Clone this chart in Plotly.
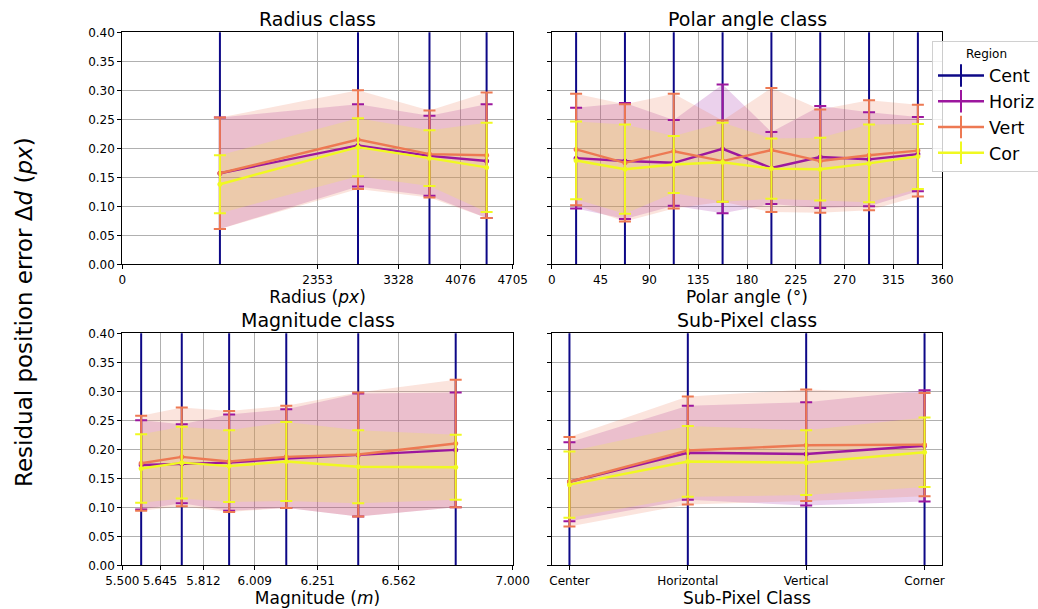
import plotly.graph_objects as go

# ---- data ---------------------------------------------------------------
regions = ["Cent", "Horiz", "Vert", "Cor"]
colors = {"Cent": "#0d0887", "Horiz": "#9c179e", "Vert": "#ed7953", "Cor": "#f0f921"}
fills = {"Horiz": "rgba(156,23,158,0.2)", "Vert": "rgba(237,121,83,0.2)", "Cor": "rgba(240,249,33,0.2)"}

# Radius class (bin edges -> bin centres)
radius_edges = [0, 2353, 3328, 4076, 4705]
radius_mean = {
    "Cent": [0.85, 0.80, 0.82, 0.78],
    "Horiz": [0.157, 0.205, 0.187, 0.178],
    "Vert": [0.157, 0.215, 0.190, 0.188],
    "Cor": [0.138, 0.202, 0.183, 0.167],
}
radius_std = {
    "Cent": [1.2, 1.1, 1.15, 1.1],
    "Horiz": [0.096, 0.071, 0.069, 0.098],
    "Vert": [0.096, 0.085, 0.075, 0.108],
    "Cor": [0.050, 0.050, 0.048, 0.077],
}

# Polar angle class
polar_edges = [0, 45, 90, 135, 180, 225, 270, 315, 360]
polar_mean = {
    "Cent": [0.80, 0.82, 0.78, 0.85, 0.80, 0.83, 0.79, 0.81],
    "Horiz": [0.183, 0.178, 0.175, 0.199, 0.166, 0.185, 0.181, 0.190],
    "Vert": [0.198, 0.175, 0.195, 0.178, 0.197, 0.178, 0.188, 0.196],
    "Cor": [0.179, 0.164, 0.172, 0.176, 0.165, 0.164, 0.174, 0.186],
}
polar_std = {
    "Cent": [1.1, 1.15, 1.1, 1.2, 1.1, 1.15, 1.1, 1.1],
    "Horiz": [0.087, 0.100, 0.074, 0.111, 0.062, 0.088, 0.081, 0.064],
    "Vert": [0.096, 0.101, 0.099, 0.070, 0.107, 0.089, 0.095, 0.079],
    "Cor": [0.067, 0.077, 0.049, 0.068, 0.052, 0.054, 0.067, 0.056],
}

# Magnitude class
mag_edges = [5.500, 5.645, 5.812, 6.009, 6.251, 6.562, 7.000]
mag_mean = {
    "Cent": [0.80, 0.82, 0.84, 0.79, 0.81, 0.83],
    "Horiz": [0.173, 0.175, 0.177, 0.184, 0.190, 0.199],
    "Vert": [0.176, 0.187, 0.179, 0.187, 0.191, 0.210],
    "Cor": [0.167, 0.177, 0.171, 0.179, 0.170, 0.169],
}
mag_std = {
    "Cent": [1.1, 1.15, 1.2, 1.1, 1.15, 1.2],
    "Horiz": [0.077, 0.068, 0.083, 0.085, 0.106, 0.099],
    "Vert": [0.082, 0.085, 0.087, 0.088, 0.107, 0.110],
    "Cor": [0.059, 0.062, 0.062, 0.068, 0.063, 0.056],
}

# Sub-pixel class
subpix_labels = ["Center", "Horizontal", "Vertical", "Corner"]
subpix_mean = {
    "Cent": [0.80, 0.84, 0.82, 0.79],
    "Horiz": [0.144, 0.194, 0.192, 0.206],
    "Vert": [0.144, 0.198, 0.207, 0.208],
    "Cor": [0.139, 0.179, 0.177, 0.195],
}
subpix_std = {
    "Cent": [1.2, 1.1, 1.15, 1.1],
    "Horiz": [0.068, 0.081, 0.089, 0.096],
    "Vert": [0.077, 0.093, 0.096, 0.089],
    "Cor": [0.057, 0.061, 0.056, 0.060],
}

y_ticks = [0.0, 0.05, 0.10, 0.15, 0.20, 0.25, 0.30, 0.35, 0.40]


def centres(edges):
    return [(a + b) / 2 for a, b in zip(edges[:-1], edges[1:])]


panels = [
    ("x", "y", centres(radius_edges), radius_mean, radius_std),
    ("x2", "y2", centres(polar_edges), polar_mean, polar_std),
    ("x3", "y3", centres(mag_edges), mag_mean, mag_std),
    ("x4", "y4", list(range(len(subpix_labels))), subpix_mean, subpix_std),
]

fig = go.Figure()

# shaded mean +/- std bands (drawn underneath all lines)
for xa, ya, xs, mean, std in panels:
    for r in regions[1:]:
        upper = [m + s for m, s in zip(mean[r], std[r])]
        lower = [m - s for m, s in zip(mean[r], std[r])]
        fig.add_trace(go.Scatter(x=xs + xs[::-1], y=upper + lower[::-1], fill="toself",
                                 fillcolor=fills[r], line=dict(width=0), mode="lines",
                                 hoverinfo="skip", showlegend=False, xaxis=xa, yaxis=ya))

# error-bar lines
for xa, ya, xs, mean, std in panels:
    for r in regions:
        fig.add_trace(go.Scatter(
            x=xs, y=mean[r], mode="lines+markers", name=r, showlegend=False,
            line=dict(color=colors[r], width=2.4), marker=dict(color=colors[r], size=5),
            error_y=dict(type="data", array=std[r], color=colors[r], thickness=2, width=6),
            xaxis=xa, yaxis=ya, cliponaxis=True))

# legend entries styled like error-bar handles
for r in regions:
    fig.add_trace(go.Scatter(
        x=[None], y=[None], mode="lines+markers", name=r,
        line=dict(color=colors[r], width=2.4),
        marker=dict(symbol="line-ns", size=16, line=dict(color=colors[r], width=2), color=colors[r]),
        xaxis="x", yaxis="y"))

W, H = 1038, 609
left_dom = [122.3 / W, 512.7 / W]
right_dom = [551.7 / W, 942.3 / W]
top_dom = [(H - 264.3) / H, (H - 32.3) / H]
bot_dom = [(H - 565.3) / H, (H - 333.3) / H]

font = "DejaVu Sans"
axis_common = dict(showline=True, linecolor="black", linewidth=1, mirror=True,
                   ticks="outside", ticklen=4, tickcolor="black", automargin=False,
                   showgrid=True, gridcolor="#b0b0b0", gridwidth=0.8,
                   zeroline=False, tickfont=dict(family=font, size=12, color="black"))
yaxis_common = dict(axis_common, range=[0, 0.4], tickvals=y_ticks, tickformat=".2f")
xtitle_font = dict(family=font, size=17, color="black")

fig.update_layout(
    width=W, height=H, margin=dict(l=0, r=0, t=0, b=0, autoexpand=False),
    paper_bgcolor="white", plot_bgcolor="white",
    font=dict(family=font, color="black"),
    xaxis=dict(axis_common, domain=left_dom, anchor="y", range=[0, 4705],
               tickvals=radius_edges, ticktext=[str(v) for v in radius_edges],
               title=dict(text="Radius (<i>px</i>)", font=xtitle_font, standoff=2)),
    yaxis=dict(yaxis_common, domain=top_dom, anchor="x"),
    xaxis2=dict(axis_common, domain=right_dom, anchor="y2", range=[0, 360],
                tickvals=polar_edges,
                title=dict(text="Polar angle (°)", font=xtitle_font, standoff=2)),
    yaxis2=dict(yaxis_common, domain=top_dom, anchor="x2", showticklabels=False),
    xaxis3=dict(axis_common, domain=left_dom, anchor="y3", range=[5.5, 7.0],
                tickvals=mag_edges, ticktext=[f"{v:.3f}" for v in mag_edges],
                title=dict(text="Magnitude (<i>m</i>)", font=xtitle_font, standoff=2)),
    yaxis3=dict(yaxis_common, domain=bot_dom, anchor="x3"),
    xaxis4=dict(axis_common, domain=right_dom, anchor="y4", range=[-0.15, 3.15],
                tickvals=list(range(len(subpix_labels))), ticktext=subpix_labels,
                title=dict(text="Sub-Pixel Class", font=xtitle_font, standoff=2)),
    yaxis4=dict(yaxis_common, domain=bot_dom, anchor="x4", showticklabels=False),
    legend=dict(x=932 / W, y=1 - 41 / H, xanchor="left", yanchor="top",
                bgcolor="rgba(255,255,255,0.8)", bordercolor="#d0d0d0", borderwidth=1,
                font=dict(family=font, size=17.5, color="black"),
                title=dict(text="Region", font=dict(family=font, size=12), side="top center"),
                itemwidth=46),
)

titles = [("Radius class", sum(left_dom) / 2, 18.5),
          ("Polar angle class", sum(right_dom) / 2, 18.5),
          ("Magnitude class", sum(left_dom) / 2, 320),
          ("Sub-Pixel class", sum(right_dom) / 2, 320)]
for text, x, ypix in titles:
    fig.add_annotation(text=text, x=x, y=1 - ypix / H, xref="paper", yref="paper",
                       xanchor="center", yanchor="middle",
                       showarrow=False, font=dict(family=font, size=19, color="black"))

fig.add_annotation(text="Residual position error Δ<i>d</i> (<i>px</i>)",
                   x=24 / W, y=1 - 312 / H, xref="paper", yref="paper", textangle=-90,
                   xanchor="center", yanchor="middle",
                   showarrow=False, font=dict(family=font, size=23, color="black"))

fig.write_html("out.html")
